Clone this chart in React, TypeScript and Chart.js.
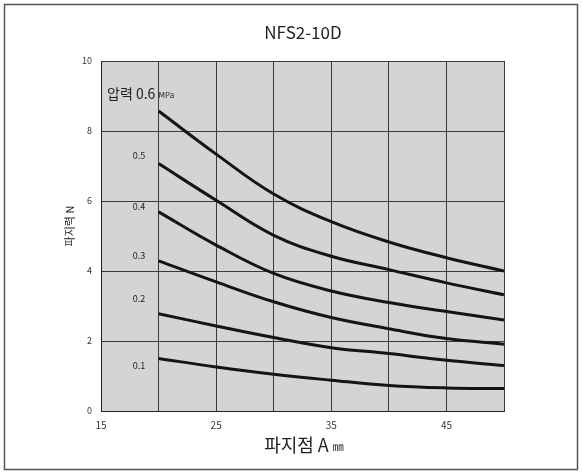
import React, { useEffect, useRef } from "react";
import { Chart, registerables } from "chart.js";

Chart.register(...registerables);

const TITLE = "NFS2-10D";
const X_TITLE = "파지점 A";
const X_UNIT = "㎜";
const Y_TITLE = "파지력 N";
const PRESSURE_PREFIX = "압력 0.6";
const PRESSURE_UNIT = "MPa";

const xPositions = [20, 25, 30, 35, 40, 45, 50];
const p06 = [8.57, 7.34, 6.2, 5.41, 4.83, 4.38, 4.0];
const p05 = [7.07, 6.02, 5.02, 4.42, 4.04, 3.66, 3.32];
const p04 = [5.69, 4.74, 3.93, 3.43, 3.1, 2.84, 2.6];
const p03 = [4.29, 3.69, 3.12, 2.67, 2.35, 2.07, 1.91];
const p02 = [2.78, 2.43, 2.1, 1.81, 1.64, 1.45, 1.3];
const p01 = [1.5, 1.26, 1.05, 0.88, 0.73, 0.66, 0.64];
const seriesValues = [p06, p05, p04, p03, p02, p01];
const seriesNames = ["0.6", "0.5", "0.4", "0.3", "0.2", "0.1"];
const pressureLabelValues = ["0.5", "0.4", "0.3", "0.2", "0.1"];
const pressureLabelY = [7.3, 5.85, 4.45, 3.2, 1.3];
const pressureLabelX = 18.3;
const xTickLabels = [15, 25, 35, 45];
const yTickLabels = [0, 2, 4, 6, 8, 10];

const KR = '"Noto Sans CJK KR", "Noto Sans", sans-serif';

const decorPlugin = {
  id: "decor",
  beforeDraw(chart: any) {
    const { ctx, chartArea, width, height } = chart;
    ctx.save();
    ctx.fillStyle = "#ffffff";
    ctx.fillRect(0, 0, width, height);
    ctx.strokeStyle = "#555555";
    ctx.lineWidth = 1.5;
    ctx.strokeRect(4.5, 4.5, width - 9, height - 9);
    ctx.fillStyle = "#d3d4d5";
    ctx.fillRect(chartArea.left, chartArea.top, chartArea.right - chartArea.left, chartArea.bottom - chartArea.top);
    ctx.restore();
  },
  afterDraw(chart: any) {
    const { ctx, scales } = chart;
    const xs = scales.x;
    const ys = scales.y;
    ctx.save();
    ctx.fillStyle = "#222222";
    ctx.textBaseline = "middle";
    // title
    ctx.textAlign = "center";
    ctx.font = `17px ${KR}`;
    ctx.fillText(TITLE, 303, 33);
    // x title
    ctx.font = `18px ${KR}`;
    ctx.textAlign = "left";
    const w1 = ctx.measureText(X_TITLE + " ").width;
    ctx.font = `11px ${KR}`;
    const w2 = ctx.measureText(X_UNIT).width;
    const startX = 304 - (w1 + w2) / 2;
    ctx.font = `18px ${KR}`;
    ctx.fillText(X_TITLE + " ", startX, 445);
    ctx.font = `11px ${KR}`;
    ctx.fillText(X_UNIT, startX + w1, 447);
    // y title
    ctx.save();
    ctx.translate(70, 226);
    ctx.rotate(-Math.PI / 2);
    ctx.textAlign = "center";
    ctx.font = `11px ${KR}`;
    ctx.fillText(Y_TITLE, 0, 0);
    ctx.restore();
    // pressure header
    ctx.textAlign = "left";
    ctx.font = `14px ${KR}`;
    ctx.fillText(PRESSURE_PREFIX, 107, 94);
    const pw = ctx.measureText(PRESSURE_PREFIX + " ").width;
    ctx.font = `8px ${KR}`;
    ctx.fillText(PRESSURE_UNIT, 107 + pw, 95);
    // series labels
    ctx.textAlign = "center";
    ctx.font = `9px ${KR}`;
    pressureLabelValues.forEach((t, i) => {
      ctx.fillText(t, xs.getPixelForValue(pressureLabelX), ys.getPixelForValue(pressureLabelY[i]));
    });
    ctx.restore();
  },
};

export default function App() {
  const ref = useRef<HTMLCanvasElement | null>(null);
  useEffect(() => {
    if (!ref.current) return;
    const chart = new Chart(ref.current, {
      type: "line",
      data: {
        datasets: seriesValues.map((vals, i) => ({
          label: seriesNames[i],
          data: vals.map((v, j) => ({ x: xPositions[j], y: v })),
          borderColor: "#141414",
          borderWidth: 3,
          pointRadius: 0,
          fill: false,
          tension: 0.4,
        })),
      },
      options: {
        responsive: false,
        animation: false,
        layout: { padding: { top: 61, right: 78, left: 0, bottom: 0 } },
        plugins: { legend: { display: false }, tooltip: { enabled: false }, title: { display: false } },
        scales: {
          x: {
            type: "linear",
            min: 15,
            max: 50,
            afterFit: (s: any) => { s.height = 63; },
            afterBuildTicks: (s: any) => {
              const t = [];
              for (let v = 15; v <= 50; v += 5) t.push({ value: v });
              s.ticks = t;
            },
            grid: { color: "#3a3a3a", lineWidth: 1, drawTicks: false },
            border: { color: "#222222", width: 1 },
            ticks: {
              padding: 8,
              maxRotation: 0,
              autoSkip: false,
              color: "#333333",
              font: { family: KR, size: 10 },
              callback: (v: any) => (xTickLabels.includes(Number(v)) ? String(v) : ""),
            },
          },
          y: {
            type: "linear",
            min: 0,
            max: 10,
            afterFit: (s: any) => { s.width = 101; },
            afterBuildTicks: (s: any) => {
              s.ticks = yTickLabels.map((v) => ({ value: v }));
            },
            grid: { color: "#3a3a3a", lineWidth: 1, drawTicks: false },
            border: { color: "#222222", width: 1 },
            ticks: {
              padding: 9,
              color: "#333333",
              font: { family: KR, size: 9 },
              callback: (v: any) => String(v),
            },
          },
        },
      },
      plugins: [decorPlugin],
    });
    return () => chart.destroy();
  }, []);
  return (
    <div style={{ position: "absolute", left: 0, top: 0, width: 582, height: 474 }}>
      <canvas ref={ref} width={582} height={474} />
    </div>
  );
}
